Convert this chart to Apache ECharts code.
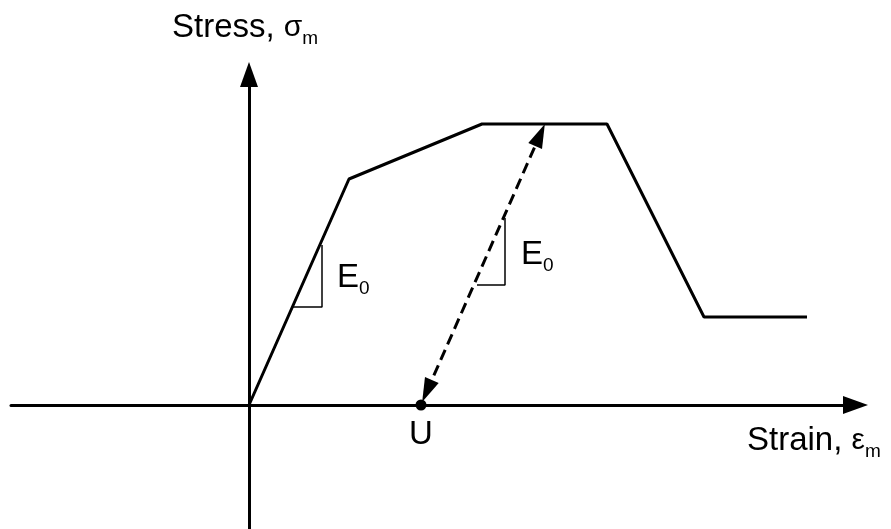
<!DOCTYPE html>
<html>
<head>
<meta charset="utf-8">
<script src="https://cdn.jsdelivr.net/npm/echarts@6/dist/echarts.min.js"></script>
<style>
  html, body { margin: 0; padding: 0; background: #fff; }
  #chart { width: 891px; height: 529px; }
</style>
</head>
<body>
<div id="chart"></div>
<script>
// stress-strain envelope (schematic units)
var strain = [0, 1.00, 2.33, 3.58, 4.55, 5.58];
var stress = [0, 2.26, 2.81, 2.81, 0.88, 0.88];

// unloading path with slope E0, ending at U (arrow heads sit on the ends)
var pointU = [1.72, 0];
var unloadFrom = [1.78, 0.14];
var unloadTo = [2.91, 2.70];

// small slope triangles
var triangle1 = [[0.73, 1.60], [0.73, 0.98], [0.44, 0.98]];
var triangle2 = [[2.56, 1.87], [2.56, 1.20], [2.28, 1.20]];

var envelope = strain.map(function (s, i) { return [s, stress[i]]; });

var chart = echarts.init(document.getElementById('chart'));

var font = 'Arial, "Liberation Sans", sans-serif';
var richSub = {
    a: { fontSize: 33, lineHeight: 40, fontFamily: font, color: '#000' },
    g: { fontSize: 30, lineHeight: 40, fontFamily: font, color: '#000' },
    s: { fontSize: 19, lineHeight: 14, fontFamily: font, color: '#000', verticalAlign: 'bottom' }
};

function label(x, y, text) {
    return {
        type: 'text', x: x, y: y, silent: true,
        style: { text: text, rich: richSub, align: 'left', verticalAlign: 'top' }
    };
}

var thin = { color: '#000', width: 1.5 };
var axisLine = {
    onZero: true, symbol: ['none', 'triangle'], symbolSize: [18, 25],
    lineStyle: { color: '#000', width: 3 }
};

chart.setOption({
    animation: false,
    backgroundColor: '#fff',
    grid: { left: 11, right: 35.5, top: 74.5, bottom: 0 },
    xAxis: {
        type: 'value', min: -2.38, max: 6.065, axisLine: axisLine,
        axisTick: { show: false }, axisLabel: { show: false }, splitLine: { show: false }
    },
    yAxis: {
        type: 'value', min: -1.24, max: 3.305, axisLine: axisLine,
        axisTick: { show: false }, axisLabel: { show: false }, splitLine: { show: false }
    },
    series: [
        {
            type: 'line', data: envelope, showSymbol: false, symbol: 'none',
            lineStyle: { color: '#000', width: 3 }, z: 3,
            markLine: {
                silent: true, symbol: ['triangle', 'triangle'], symbolSize: [15, 24],
                label: { show: false },
                itemStyle: { color: '#000' },
                lineStyle: { color: '#000', width: 3, type: [11, 6], opacity: 1 },
                data: [[{ coord: unloadFrom }, { coord: unloadTo }]]
            }
        },
        { type: 'line', data: triangle1, symbol: 'none', lineStyle: thin },
        { type: 'line', data: triangle2, symbol: 'none', lineStyle: thin },
        {
            type: 'scatter', data: [pointU], symbolSize: 11, z: 5,
            itemStyle: { color: '#000', opacity: 1 },
            label: {
                show: true, position: 'bottom', distance: 4, formatter: 'U',
                fontSize: 33, lineHeight: 40, fontFamily: font, color: '#000'
            }
        }
    ],
    graphic: [
        label(172, 8, '{a|Stress, }{g|σ}{s|m}'),
        label(747, 421, '{a|Strain, }{g|ε}{s|m}'),
        label(337, 258, '{a|E}{s|0}'),
        label(521, 235, '{a|E}{s|0}')
    ]
});
</script>
</body>
</html>
